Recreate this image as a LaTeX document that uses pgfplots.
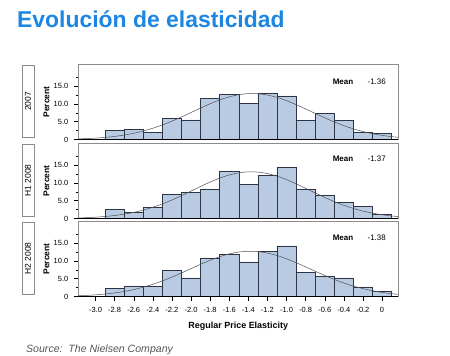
\documentclass[border=0pt]{standalone}
\usepackage{fontspec}
\setmainfont{Liberation Sans}
\usepackage{pgfplots}
\pgfplotsset{compat=1.18}
\usetikzlibrary{calc}
\definecolor{titleblue}{RGB}{28,134,226}
\definecolor{barfill}{RGB}{184,203,227}
\definecolor{baredge}{RGB}{45,52,68}
\definecolor{framegray}{RGB}{140,140,140}
\definecolor{srcgray}{RGB}{85,85,85}
\definecolor{curvecol}{RGB}{80,80,80}

\pgfplotsset{
  panel/.style={
    width=320bp, height=75bp, scale only axis,
    xmin=-3.18, xmax=0.17, ymin=0, ymax=21,
    axis line style={framegray, line width=0.6bp},
    ytick={0,5,10,15}, yticklabels={0,5.0,10.0,15.0},
    minor ytick={2.5,7.5,12.5,17.5},
    tick align=outside, major tick length=4.5bp, minor tick length=2.5bp,
    ytick pos=left, xtick pos=bottom,
    major tick style={black, line width=0.4bp},
    minor tick style={black, line width=0.4bp},
    ticklabel style={font=\fontsize{7.5}{8}\selectfont},
    yticklabel style={xshift=-2bp},
    ylabel={\bfseries Percent},
    ylabel style={font=\fontsize{8.5}{10}\selectfont, at={(axis description cs:-0.099,0.5)}, anchor=center, rotate=0},
  },
  bars/.style={ybar, bar width=0.2, bar shift=0pt, fill=barfill, draw=baredge, line width=0.5bp},
  curve/.style={smooth, mark=none, draw=curvecol, line width=0.5bp},
}

\begin{document}
\begin{tikzpicture}
\path[use as bounding box] (0,0) rectangle (450bp,-356bp);

\node[anchor=base west, font=\fontsize{23}{26}\selectfont\bfseries, text=titleblue, inner sep=0] at (17bp,-27.7bp) {Evolución de elasticidad};

% ---------- Panel 1: 2007 ----------
\begin{axis}[panel, name=p1, at={(78.3bp,-64.5bp)}, anchor=north west, xtick=\empty]
\addplot[bars] coordinates {
(-2.8,2.5) (-2.6,2.8) (-2.4,1.9) (-2.2,6.0) (-2.0,5.5) (-1.8,11.5) (-1.6,12.7)
(-1.4,10.1) (-1.2,12.9) (-1.0,12.2) (-0.8,5.4) (-0.6,7.4) (-0.4,5.3) (-0.2,2.1) (0,1.8)};
\addplot[curve] coordinates {
(-3.2,0.157) (-3.1,0.251) (-3.0,0.389) (-2.9,0.588) (-2.8,0.867) (-2.7,1.245)
(-2.6,1.742) (-2.5,2.375) (-2.4,3.152) (-2.3,4.078) (-2.2,5.139) (-2.1,6.313)
(-2.0,7.553) (-1.9,8.807) (-1.8,10.005) (-1.7,11.073) (-1.6,11.941) (-1.5,12.546)
(-1.4,12.843) (-1.3,12.810) (-1.2,12.448) (-1.1,11.786) (-1.0,10.874) (-0.9,9.773)
(-0.8,8.559) (-0.7,7.304) (-0.6,6.072) (-0.5,4.919) (-0.4,3.882) (-0.3,2.985)
(-0.2,2.235) (-0.1,1.632) (0.0,1.161) (0.1,0.804) (0.2,0.54)};
\node[font=\fontsize{8}{9}\selectfont\bfseries] at (rel axis cs:0.827,0.77) {Mean};
\node[font=\fontsize{8}{9}\selectfont] at (rel axis cs:0.9325,0.77) {-1.36};
\end{axis}

% ---------- Panel 2: H1 2008 ----------
\begin{axis}[panel, name=p2, at={(78.3bp,-143.5bp)}, anchor=north west, xtick=\empty]
\addplot[bars] coordinates {
(-2.8,2.6) (-2.6,1.8) (-2.4,3.2) (-2.2,6.7) (-2.0,7.4) (-1.8,8.2) (-1.6,13.2)
(-1.4,9.6) (-1.2,12.1) (-1.0,14.3) (-0.8,8.1) (-0.6,6.4) (-0.4,4.6) (-0.2,3.3) (0,1.2)};
\addplot[curve] coordinates {
(-3.2,0.145) (-3.1,0.234) (-3.0,0.368) (-2.9,0.563) (-2.8,0.838) (-2.7,1.214)
(-2.6,1.712) (-2.5,2.352) (-2.4,3.143) (-2.3,4.091) (-2.2,5.181) (-2.1,6.392)
(-2.0,7.673) (-1.9,8.969) (-1.8,10.202) (-1.7,11.300) (-1.6,12.183) (-1.5,12.786)
(-1.4,13.064) (-1.3,12.994) (-1.2,12.582) (-1.1,11.860) (-1.0,10.883) (-0.9,9.721)
(-0.8,8.452) (-0.7,7.155) (-0.6,5.897) (-0.5,4.730) (-0.4,3.694) (-0.3,2.809)
(-0.2,2.079) (-0.1,1.498) (0.0,1.050) (0.1,0.717) (0.2,0.47)};
\node[font=\fontsize{8}{9}\selectfont\bfseries] at (rel axis cs:0.827,0.79) {Mean};
\node[font=\fontsize{8}{9}\selectfont] at (rel axis cs:0.9325,0.79) {-1.37};
\end{axis}

% ---------- Panel 3: H2 2008 ----------
\begin{axis}[panel, name=p3, at={(78.3bp,-221.5bp)}, anchor=north west,
  xtick={-3.0,-2.8,-2.6,-2.4,-2.2,-2.0,-1.8,-1.6,-1.4,-1.2,-1.0,-0.8,-0.6,-0.4,-0.2,0},
  xticklabels={-3.0,-2.8,-2.6,-2.4,-2.2,-2.0,-1.8,-1.6,-1.4,-1.2,-1.0,-0.8,-0.6,-0.4,-0.2,0},
  xticklabel style={yshift=-3bp},
  xlabel={\bfseries Regular Price Elasticity},
  xlabel style={font=\fontsize{9}{10}\selectfont, at={(axis description cs:0.5,-0.4307)}, anchor=base}]
\addplot[bars] coordinates {
(-2.8,2.2) (-2.6,3.0) (-2.4,3.0) (-2.2,7.3) (-2.0,5.2) (-1.8,10.8) (-1.6,11.8)
(-1.4,9.7) (-1.2,12.7) (-1.0,14.2) (-0.8,6.7) (-0.6,5.7) (-0.4,5.2) (-0.2,2.7) (0,1.6)};
\addplot[curve] coordinates {
(-3.2,0.195) (-3.1,0.305) (-3.0,0.465) (-2.9,0.690) (-2.8,1.000) (-2.7,1.411)
(-2.6,1.942) (-2.5,2.610) (-2.4,3.416) (-2.3,4.362) (-2.2,5.432) (-2.1,6.595)
(-2.0,7.806) (-1.9,9.012) (-1.8,10.145) (-1.7,11.137) (-1.6,11.921) (-1.5,12.442)
(-1.4,12.664) (-1.3,12.569) (-1.2,12.163) (-1.1,11.479) (-1.0,10.563) (-0.9,9.478)
(-0.8,8.294) (-0.7,7.076) (-0.6,5.888) (-0.5,4.777) (-0.4,3.778) (-0.3,2.915)
(-0.2,2.193) (-0.1,1.608) (0.0,1.150) (0.1,0.802) (0.2,0.55)};
\node[font=\fontsize{8}{9}\selectfont\bfseries] at (rel axis cs:0.827,0.784) {Mean};
\node[font=\fontsize{8}{9}\selectfont] at (rel axis cs:0.9325,0.784) {-1.38};
\end{axis}

% dark baselines
\foreach \p in {p1,p2,p3} {
  \draw[black, line width=0.6bp] (\p.south west) -- (\p.south east);
}

% strip labels
\foreach \p/\lab in {p1/2007,p2/H1 2008,p3/H2 2008} {
  \draw[framegray, line width=0.6bp] ($(\p.south west)+(-56bp,2bp)$) rectangle ($(\p.north west)+(-44.5bp,-1bp)$);
  \node[rotate=90, font=\fontsize{8.5}{10}\selectfont, inner sep=0] at ($(\p.west)+(-50.25bp,0.5bp)$) {\lab};
}

\node[anchor=base west, font=\fontsize{10.6}{12}\selectfont\itshape, text=srcgray, inner sep=0] at (26bp,-352.5bp) {Source:\ \ The Nielsen Company};
\end{tikzpicture}
\end{document}
